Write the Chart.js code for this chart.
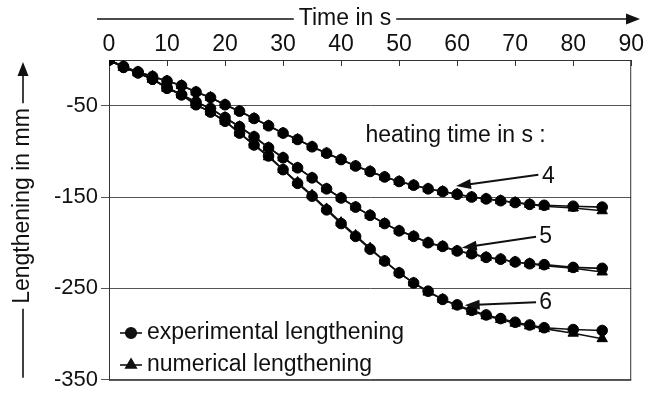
<!DOCTYPE html>
<html>
<head>
<meta charset="utf-8">
<script src="https://cdn.jsdelivr.net/npm/chart.js@4/dist/chart.umd.min.js"></script>
<style>
    html, body { margin: 0; padding: 0; background: #fff; }
    #grafico { display: block; }
</style>
</head>
<body>
<canvas id="grafico" width="646" height="396"></canvas>
<script>
// tiempo en s (cada 2.5 s hasta 75, luego 80 y 85)
const tiempos = [0, 2.5, 5, 7.5, 10, 12.5, 15, 17.5, 20, 22.5, 25, 27.5, 30, 32.5, 35, 37.5, 40,
    42.5, 45, 47.5, 50, 52.5, 55, 57.5, 60, 62.5, 65, 67.5, 70, 72.5, 75, 80, 85];

// heating time 4 s
const exp4 = [0, -7, -13, -18, -23, -28, -35, -41, -49, -56, -64, -72, -80, -87, -95, -102, -109,
    -116, -122, -128, -133, -137, -141, -144, -147, -150, -152, -154, -156, -158, -159, -160, -161];
const num4 = [0, -7, -13, -18, -23, -28, -35, -41, -49, -56, -64, -72, -80, -87, -95, -102, -109,
    -116, -122, -128, -133, -137, -141, -144, -147, -150, -152, -154, -156, -158, -160, -162, -165];

// heating time 5 s
const exp5 = [0, -8, -14, -21, -30, -38, -46, -53, -63, -73, -84, -96, -107, -118, -129, -141, -151,
    -161, -170, -179, -187, -193, -200, -204, -209, -212, -216, -218, -221, -223, -224, -227, -228];
const num5 = [0, -8, -14, -21, -30, -38, -46, -53, -63, -73, -84, -96, -107, -118, -129, -141, -151,
    -161, -170, -179, -187, -193, -200, -204, -209, -212, -216, -218, -221, -223, -225, -228, -232];

// heating time 6 s
const exp6 = [0, -8, -14, -21, -31, -38, -49, -57, -67, -80, -93, -105, -120, -135, -149, -164, -179,
    -193, -207, -220, -233, -244, -253, -262, -268, -274, -279, -283, -287, -290, -293, -295, -296];
const num6 = [0, -8, -14, -21, -31, -38, -49, -57, -67, -80, -93, -106, -120, -134, -148, -163, -178,
    -192, -206, -220, -233, -244, -254, -262, -269, -275, -280, -284, -288, -291, -294, -299, -305];

const ticksX = [0, 10, 20, 30, 40, 50, 60, 70, 80, 90];
const ticksY = [-350, -250, -150, -50];

const FUENTE = "'Liberation Sans', Arial, sans-serif";
const NEGRO = '#111';

function puntos(valores) {
    return tiempos.map((t, i) => ({ x: t, y: valores[i] }));
}

function serie(label, valores, estilo) {
    return {
        label: label,
        data: puntos(valores),
        borderColor: NEGRO,
        backgroundColor: NEGRO,
        borderWidth: 1.6,
        pointStyle: estilo,
        pointRadius: estilo === 'triangle' ? 6 : 5.3,
        pointBackgroundColor: '#000',
        pointBorderColor: '#000',
        pointBorderWidth: 1,
        tension: 0
    };
}

function flecha(ctx, x1, y1, x2, y2, largo, ancho) {
    const ang = Math.atan2(y2 - y1, x2 - x1);
    ctx.beginPath();
    ctx.moveTo(x1, y1);
    ctx.lineTo(x2 - Math.cos(ang) * largo * 0.8, y2 - Math.sin(ang) * largo * 0.8);
    ctx.stroke();
    ctx.beginPath();
    ctx.moveTo(x2, y2);
    ctx.lineTo(x2 - Math.cos(ang) * largo - Math.sin(ang) * ancho / 2, y2 - Math.sin(ang) * largo + Math.cos(ang) * ancho / 2);
    ctx.lineTo(x2 - Math.cos(ang) * largo + Math.sin(ang) * ancho / 2, y2 - Math.sin(ang) * largo - Math.cos(ang) * ancho / 2);
    ctx.closePath();
    ctx.fill();
}

// marco, marcas interiores del eje superior, titulos, notas y leyenda
const extras = {
    id: 'extras',
    beforeDatasetsDraw(chart) {
        const { ctx, chartArea: a, scales } = chart;
        ctx.save();
        ctx.strokeStyle = '#333';
        ctx.lineWidth = 1;
        ctx.strokeRect(a.left + 0.5, a.top + 0.5, a.right - a.left - 1, a.bottom - a.top);
        ctx.beginPath();
        ticksX.forEach(v => {
            const px = Math.round(scales.x.getPixelForValue(v)) + 0.5;
            ctx.moveTo(px, a.top);
            ctx.lineTo(px, a.top + 6);
        });
        ctx.stroke();
        ctx.restore();
    },
    afterDraw(chart) {
        const { ctx, chartArea: a, scales } = chart;
        const sx = v => scales.x.getPixelForValue(v);
        const sy = v => scales.y.getPixelForValue(v);
        ctx.save();
        ctx.fillStyle = NEGRO;
        ctx.strokeStyle = NEGRO;
        ctx.font = '23px ' + FUENTE;
        ctx.textBaseline = 'middle';

        // titulo superior con flecha
        const tt = 'Time in s';
        const wt = ctx.measureText(tt).width;
        const cx = 345, cy = 19;
        ctx.textAlign = 'center';
        ctx.fillText(tt, cx, cy);
        ctx.lineWidth = 1.6;
        ctx.beginPath();
        ctx.moveTo(97, cy);
        ctx.lineTo(cx - wt / 2 - 5, cy);
        ctx.stroke();
        flecha(ctx, cx + wt / 2 + 5, cy, 640, cy, 14, 11);

        // titulo izquierdo con flecha
        const ty = 'Lengthening in mm';
        const wy = ctx.measureText(ty).width;
        const lx = 23, ly = 206;
        ctx.save();
        ctx.translate(lx, ly);
        ctx.rotate(-Math.PI / 2);
        ctx.fillText(ty, 0, 0);
        ctx.restore();
        ctx.beginPath();
        ctx.moveTo(lx, a.bottom - 2);
        ctx.lineTo(lx, ly + wy / 2 + 5);
        ctx.stroke();
        flecha(ctx, lx, ly - wy / 2 - 5, lx, 62, 14, 11);

        // notas: heating time
        ctx.textAlign = 'left';
        ctx.fillText('heating time in s :', sx(44.2), sy(-83));
        const notas = [
            { txt: '4', tx: 75.5, ty: -128, x1: 74.0, y1: -125.5, x2: 59.8, y2: -138 },
            { txt: '5', tx: 75.0, ty: -193, x1: 73.6, y1: -193.5, x2: 60.8, y2: -205.5 },
            { txt: '6', tx: 75.0, ty: -266, x1: 73.6, y1: -265, x2: 61.3, y2: -268.5 }
        ];
        ctx.lineWidth = 2;
        notas.forEach(n => {
            ctx.fillText(n.txt, sx(n.tx) - 5, sy(n.ty));
            flecha(ctx, sx(n.x1), sy(n.y1), sx(n.x2), sy(n.y2), 15, 10);
        });

        // leyenda
        const filas = [
            { txt: 'experimental lengthening', estilo: 'circle', y: 333 },
            { txt: 'numerical lengthening', estilo: 'triangle', y: 365 }
        ];
        ctx.lineWidth = 1.6;
        filas.forEach(f => {
            ctx.beginPath();
            ctx.moveTo(a.left + 11, f.y);
            ctx.lineTo(a.left + 33, f.y);
            ctx.stroke();
            Chart.helpers.drawPoint(ctx, {
                pointStyle: f.estilo, radius: f.estilo === 'triangle' ? 6 : 5.3,
                borderWidth: 1, rotation: 0
            }, a.left + 22, f.y);
            ctx.fill();
            ctx.fillText(f.txt, a.left + 38, f.y);
        });
        ctx.restore();
    }
};

const ctx = document.getElementById('grafico').getContext('2d');
new Chart(ctx, {
    type: 'line',
    data: {
        datasets: [
            serie('numerical lengthening', num4, 'triangle'),
            serie('experimental lengthening', exp4, 'circle'),
            serie('numerical lengthening', num5, 'triangle'),
            serie('experimental lengthening', exp5, 'circle'),
            serie('numerical lengthening', num6, 'triangle'),
            serie('experimental lengthening', exp6, 'circle')
        ]
    },
    options: {
        responsive: false,
        animation: false,
        devicePixelRatio: 1,
        layout: { padding: { left: 0, top: 0, right: 12, bottom: 14 } },
        plugins: { legend: { display: false }, tooltip: { enabled: false } },
        scales: {
            x: {
                type: 'linear',
                position: 'top',
                min: 0,
                max: 90,
                afterBuildTicks: s => { s.ticks = ticksX.map(v => ({ value: v })); },
                afterFit: s => { s.height = 60; },
                ticks: { font: { family: FUENTE, size: 23 }, color: NEGRO, padding: 2, maxRotation: 0, autoSkip: false },
                grid: { drawOnChartArea: false, drawTicks: false },
                border: { display: true, color: '#333', width: 1 }
            },
            y: {
                type: 'linear',
                min: -350,
                max: 0,
                afterBuildTicks: s => { s.ticks = ticksY.map(v => ({ value: v })); },
                afterFit: s => { s.width = 109; },
                ticks: { font: { family: FUENTE, size: 22 }, color: NEGRO, padding: 3 },
                grid: { color: '#555', lineWidth: 1, drawTicks: true, tickLength: 8 },
                border: { display: true, color: '#333', width: 1 }
            }
        }
    },
    plugins: [extras]
});
</script>
</body>
</html>
